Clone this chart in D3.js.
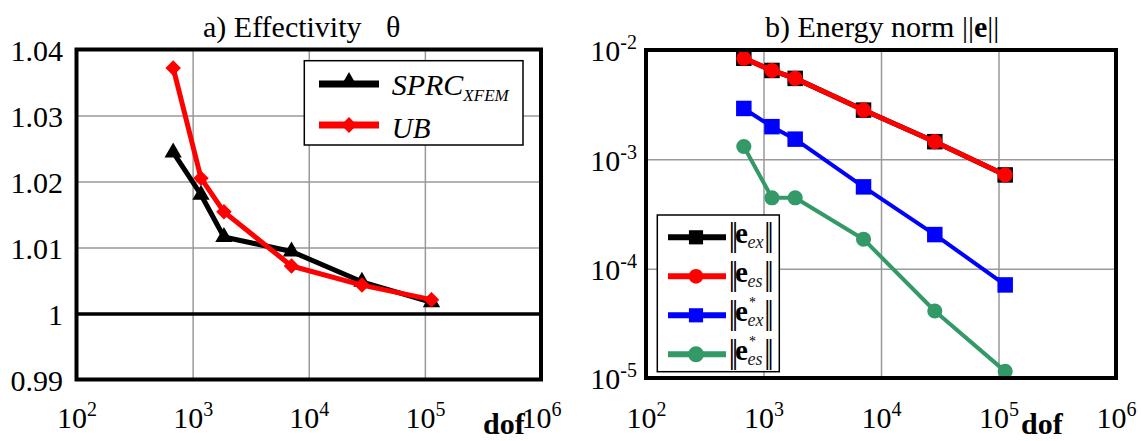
<!DOCTYPE html>
<html>
<head>
<meta charset="utf-8">
<script src="https://cdn.jsdelivr.net/npm/d3@7"></script>
<style>
html,body{margin:0;padding:0;background:#fff;}
svg text, svg tspan{font-family:"Liberation Serif","Times New Roman",serif !important;}
</style>
</head>
<body>
<svg id="chart" width="1141" height="441"></svg>
<script>
// ---- data ----
const dof = [680, 1180, 1860, 7100, 28700, 114000];
const sprc = [1.0244, 1.0180, 1.0116, 1.0094, 1.0048, 1.0017];
const ub = [1.0372, 1.0205, 1.0154, 1.0072, 1.0043, 1.0021];
const eEx = [8.4e-3, 6.5e-3, 5.5e-3, 2.82e-3, 1.45e-3, 7.2e-4];
const eEs = [8.4e-3, 6.5e-3, 5.5e-3, 2.82e-3, 1.45e-3, 7.2e-4];
const eExStar = [2.92e-3, 1.99e-3, 1.53e-3, 5.6e-4, 2.05e-4, 7.1e-5];
const eEsStar = [1.31e-3, 4.45e-4, 4.45e-4, 1.86e-4, 4.1e-5, 1.15e-5];
const xTicks = [1e2, 1e3, 1e4, 1e5, 1e6];
const xTickExp = ["2", "3", "4", "5", "6"];
const yTicksA = [0.99, 1.0, 1.01, 1.02, 1.03, 1.04];
const yTickLabelsA = ["0.99", "1", "1.01", "1.02", "1.03", "1.04"];
const yTicksB = [1e-5, 1e-4, 1e-3, 1e-2];
const yTickExpB = ["-5", "-4", "-3", "-2"];

const SERIF = '"Liberation Serif","Times New Roman",serif';
const svg = d3.select("#chart").style("font-family", SERIF);
const FS = 30;

function xAxisLabels(g, x, y0, exps) {
  const ax = d3.axisBottom(x).tickValues(xTicks).tickSize(0).tickFormat("");
  const a = g.append("g").attr("transform", `translate(0,${y0})`).call(ax)
    .attr("font-family", null).attr("font-size", null);
  a.select(".domain").remove();
  a.selectAll(".tick text").each(function(d, i) {
    const t = d3.select(this).attr("y", 48).attr("dy", 0)
      .style("font-size", FS + "px").attr("fill", "#000").attr("text-anchor", "middle");
    t.append("tspan").text("10");
    t.append("tspan").style("font-size", "20px").attr("dy", -12).text(exps[i]);
  });
}

// ================= Panel A =================
{
  const L = 76.5, R = 541, T = 49.5, B = 379.5;
  const x = d3.scaleLog().domain([1e2, 1e6]).range([L, R]);
  const y = d3.scaleLinear().domain([0.99, 1.04]).range([B, T]);
  const g = svg.append("g");

  const gx = g.append("g").attr("transform", `translate(0,${B})`)
    .call(d3.axisBottom(x).tickValues([1e3, 1e4, 1e5]).tickSize(-(B - T)).tickFormat(""));
  gx.select(".domain").remove();
  gx.selectAll("line").attr("stroke", "#999").attr("stroke-width", 1.5);
  const gy = g.append("g").attr("transform", `translate(${L},0)`)
    .call(d3.axisLeft(y).tickValues([1.01, 1.02, 1.03]).tickSize(-(R - L)).tickFormat(""));
  gy.select(".domain").remove();
  gy.selectAll("line").attr("stroke", "#999").attr("stroke-width", 1.5);
  const g1 = g.append("g").attr("transform", `translate(${L},0)`)
    .call(d3.axisLeft(y).tickValues([1.0]).tickSize(-(R - L)).tickFormat(""));
  g1.select(".domain").remove();
  g1.selectAll("line").attr("stroke", "#000").attr("stroke-width", 3.5);

  const ya = g.append("g").attr("transform", `translate(${L},0)`)
    .call(d3.axisLeft(y).tickValues(yTicksA).tickSize(0).tickPadding(13.5)
      .tickFormat((d, i) => yTickLabelsA[i]))
    .attr("font-family", null).attr("font-size", null);
  ya.select(".domain").remove();
  ya.selectAll("text").style("font-size", FS + "px").attr("fill", "#000").attr("dy", "0.36em");

  xAxisLabels(g, x, B, xTickExp);
  g.append("text").attr("x", 483).attr("y", 434).style("font-size", "30px")
    .attr("font-weight", "bold").text("dof");

  const line = d3.line().x((d, i) => x(dof[i])).y(d => y(d));
  g.append("path").datum(sprc).attr("d", line).attr("fill", "none")
    .attr("stroke", "#000").attr("stroke-width", 5).attr("stroke-linejoin", "round");
  g.selectAll(".tri").data(sprc).join("path")
    .attr("transform", (d, i) => `translate(${x(dof[i])},${y(d)})`)
    .attr("d", d3.symbol().type(d3.symbolTriangle).size(130)).attr("fill", "#000");
  g.append("path").datum(ub).attr("d", line).attr("fill", "none")
    .attr("stroke", "#ff0000").attr("stroke-width", 5).attr("stroke-linejoin", "round");
  g.selectAll(".dia").data(ub).join("path")
    .attr("transform", (d, i) => `translate(${x(dof[i])},${y(d)}) rotate(45)`)
    .attr("d", d3.symbol().type(d3.symbolSquare).size(120)).attr("fill", "#ff0000");

  g.append("rect").attr("x", L).attr("y", T).attr("width", R - L).attr("height", B - T)
    .attr("fill", "none").attr("stroke", "#000").attr("stroke-width", 4);

  const lg = g.append("g");
  lg.append("rect").attr("x", 304.3).attr("y", 60.7).attr("width", 218.7).attr("height", 84.3)
    .attr("fill", "#fff").attr("stroke", "#000").attr("stroke-width", 1.5);
  lg.append("line").attr("x1", 319).attr("x2", 379).attr("y1", 84).attr("y2", 84)
    .attr("stroke", "#000").attr("stroke-width", 7);
  lg.append("path").attr("transform", "translate(349,82)")
    .attr("d", d3.symbol().type(d3.symbolTriangle).size(130)).attr("fill", "#000");
  lg.append("line").attr("x1", 319).attr("x2", 379).attr("y1", 125).attr("y2", 125)
    .attr("stroke", "#ff0000").attr("stroke-width", 7);
  lg.append("path").attr("transform", "translate(349,125) rotate(45)")
    .attr("d", d3.symbol().type(d3.symbolSquare).size(125)).attr("fill", "#ff0000");
  const t1 = lg.append("text").attr("x", 391.7).attr("y", 95).style("font-size", "30px")
    .attr("font-style", "italic");
  t1.append("tspan").text("SPRC");
  t1.append("tspan").style("font-size", "17px").attr("dy", 6).text("XFEM");
  lg.append("text").attr("x", 391.7).attr("y", 138).style("font-size", "29px")
    .attr("font-style", "italic").text("UB");

  g.append("text").attr("x", 203).attr("y", 37).style("font-size", "30px").text("a) Effectivity");
  g.append("text").attr("x", 386).attr("y", 37).style("font-size", "30px").text("θ");
}

// ================= Panel B =================
{
  const L = 646, R = 1116, T = 50, B = 378;
  const x = d3.scaleLog().domain([1e2, 1e6]).range([L, R]);
  const y = d3.scaleLog().domain([1e-5, 1e-2]).range([B, T]);
  const g = svg.append("g");

  const gx = g.append("g").attr("transform", `translate(0,${B})`)
    .call(d3.axisBottom(x).tickValues([1e3, 1e4, 1e5]).tickSize(-(B - T)).tickFormat(""));
  gx.select(".domain").remove();
  gx.selectAll("line").attr("stroke", "#999").attr("stroke-width", 1.5);
  const gy = g.append("g").attr("transform", `translate(${L},0)`)
    .call(d3.axisLeft(y).tickValues([1e-4, 1e-3]).tickSize(-(R - L)).tickFormat(""));
  gy.select(".domain").remove();
  gy.selectAll("line").attr("stroke", "#999").attr("stroke-width", 1.5);

  const ya = g.append("g").attr("transform", `translate(${L},0)`)
    .call(d3.axisLeft(y).tickValues(yTicksB).tickSize(0).tickPadding(9).tickFormat(""))
    .attr("font-family", null).attr("font-size", null);
  ya.select(".domain").remove();
  ya.selectAll(".tick text").each(function(d, i) {
    const t = d3.select(this).style("font-size", FS + "px").attr("fill", "#000").attr("dy", "0.36em");
    t.append("tspan").text("10");
    t.append("tspan").style("font-size", "20px").attr("dy", -12).text(yTickExpB[i]);
  });

  xAxisLabels(g, x, B + 2, xTickExp);
  g.append("text").attr("x", 1021).attr("y", 434).style("font-size", "30px")
    .attr("font-weight", "bold").text("dof");

  const line = d3.line().x((d, i) => x(dof[i])).y(d => y(d));
  const series = [
    {v: eEx, c: "#000000", sym: d3.symbolSquare, size: 240, w: 5},
    {v: eEs, c: "#ff0000", sym: d3.symbolCircle, size: 180, w: 5},
    {v: eExStar, c: "#0000ff", sym: d3.symbolSquare, size: 240, w: 4},
    {v: eEsStar, c: "#339966", sym: d3.symbolCircle, size: 180, w: 4}
  ];
  series.forEach(s => {
    g.append("path").datum(s.v).attr("d", line).attr("fill", "none")
      .attr("stroke", s.c).attr("stroke-width", s.w).attr("stroke-linejoin", "round");
    g.append("g").selectAll("path").data(s.v).join("path")
      .attr("transform", (d, i) => `translate(${x(dof[i])},${y(d)})`)
      .attr("d", d3.symbol().type(s.sym).size(s.size)).attr("fill", s.c);
  });

  g.append("rect").attr("x", L).attr("y", T).attr("width", R - L).attr("height", B - T)
    .attr("fill", "none").attr("stroke", "#000").attr("stroke-width", 4);

  const lg = g.append("g");
  lg.append("rect").attr("x", 657.3).attr("y", 215).attr("width", 122).attr("height", 156.7)
    .attr("fill", "#fff").attr("stroke", "#000").attr("stroke-width", 1.5);
  const entries = [
    {c: "#000000", sym: d3.symbolSquare, size: 200, sub: "ex", star: false, w: 6},
    {c: "#ff0000", sym: d3.symbolCircle, size: 170, sub: "es", star: false, w: 6},
    {c: "#0000ff", sym: d3.symbolSquare, size: 200, sub: "ex", star: true, w: 6},
    {c: "#339966", sym: d3.symbolCircle, size: 200, sub: "es", star: true, w: 6}
  ];
  entries.forEach((e, i) => {
    const cy = 237.3 + i * 39;
    lg.append("line").attr("x1", 668).attr("x2", 726).attr("y1", cy).attr("y2", cy)
      .attr("stroke", e.c).attr("stroke-width", e.w);
    lg.append("path").attr("transform", `translate(696,${cy})`)
      .attr("d", d3.symbol().type(e.sym).size(e.size)).attr("fill", e.c);
    const by = cy + 6;
    const t = lg.append("text").attr("x", 728.5).attr("y", by + 3);
    t.append("tspan").attr("x", 728.5).attr("y", by + 3).style("font-size", "33px")
      .attr("letter-spacing", -3.4).text("||");
    t.append("tspan").attr("x", 735).attr("y", by).style("font-size", "29px")
      .attr("font-weight", "bold").text("e");
    if (e.star) t.append("tspan").attr("x", 749).attr("y", by - 14.5).style("font-size", "14px")
      .text("*");
    t.append("tspan").attr("x", 747.5).attr("y", by + 5).style("font-size", "18px")
      .attr("font-style", "italic").attr("fill", "#222").text(e.sub);
    t.append("tspan").attr("x", 764).attr("y", by + 3).style("font-size", "33px")
      .attr("letter-spacing", -3.4).text("||");
  });

  const tt = g.append("text").attr("x", 765).attr("y", 37).style("font-size", "30px");
  tt.append("tspan").text("b) Energy norm ||");
  tt.append("tspan").attr("font-weight", "bold").text("e");
  tt.append("tspan").text("||");
}
</script>
</body>
</html>
